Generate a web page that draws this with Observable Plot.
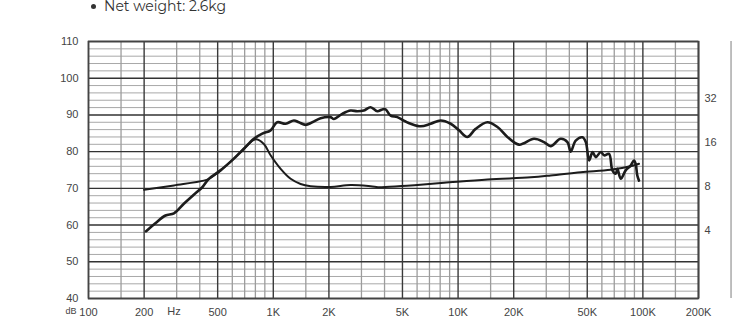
<!DOCTYPE html>
<html><head><meta charset="utf-8">
<script src="https://cdn.jsdelivr.net/npm/d3@7"></script>
<script src="https://cdn.jsdelivr.net/npm/@observablehq/plot@0.6"></script>
<style>
html,body{margin:0;padding:0;background:#fff;}
#wrap{position:relative;width:735px;height:323px;overflow:hidden;}
#note{position:absolute;left:91px;top:-1px;font-family:Montserrat,"Open Sans",sans-serif;font-size:14px;line-height:14px;color:#333;white-space:nowrap;}
#note .dot{display:inline-block;width:5px;height:5px;border-radius:50%;background:#333;margin-right:8px;vertical-align:2px;}
#chart{position:absolute;left:0;top:0;}
</style></head>
<body>
<div id="wrap">
  <div id="chart"></div>
  <div id="note"><span class="dot"></span>Net weight: 2.6kg</div>
</div>
<script>
// Frequency response (SPL, dB)
const splFreq = [205, 230, 261, 290, 328, 370, 413, 448, 518, 612, 693, 785, 872, 967, 1050, 1166, 1293, 1375, 1495, 1626, 1803, 2041, 2128, 2361, 2620, 2849, 3092, 3363, 3656, 3892, 4055, 4315, 4690, 5200, 5540, 6280, 7110, 8050, 9120, 10120, 11220, 12450, 14410, 16330, 18490, 21380, 25760, 29170, 31700, 35900, 39060, 40700, 43300, 47100, 49100, 51200, 53400, 55600, 59200, 61700, 65600, 68400, 71300, 72800, 75900, 80700, 85900, 89500, 91400, 93300, 95300];
const splDb = [58.3, 60.5, 62.6, 63.2, 65.8, 68.2, 70.3, 72.6, 74.9, 78.1, 80.8, 83.5, 84.9, 85.8, 88.0, 87.6, 88.5, 88.0, 87.3, 88.0, 89.1, 89.4, 88.9, 90.3, 91.2, 91.0, 91.2, 92.1, 91.0, 91.5, 91.5, 89.8, 89.4, 88.2, 87.6, 86.9, 87.6, 88.5, 87.6, 85.8, 84.0, 86.2, 88.0, 86.7, 84.0, 81.9, 83.5, 82.6, 81.5, 83.5, 82.6, 80.0, 83.0, 83.9, 82.6, 77.6, 79.9, 78.5, 79.9, 79.0, 79.4, 74.9, 74.0, 75.3, 72.6, 74.9, 76.2, 77.6, 76.7, 73.5, 72.1];

// Impedance curve, expressed on the chart's dB grid
const impFreq = [200, 290, 421, 448, 518, 612, 693, 802, 889, 967, 1096, 1241, 1405, 1592, 2041, 2620, 3363, 3810, 5540, 8390, 14410, 24720, 31700, 46100, 67000, 85900, 95300];
const impDb = [69.6, 70.8, 72.1, 72.6, 74.9, 78.1, 80.8, 83.4, 82.1, 79.0, 75.3, 72.6, 71.2, 70.6, 70.4, 70.9, 70.6, 70.3, 70.8, 71.5, 72.4, 73.0, 73.5, 74.4, 75.1, 76.0, 76.7];

// Tick labels
const yTicks = [40, 50, 60, 70, 80, 90, 100, 110];
const xTickValues = [100, 200, 500, 1000, 2000, 5000, 10000, 20000, 50000, 100000, 200000];
const xTickLabels = ["100", "200", "500", "1K", "2K", "5K", "10K", "20K", "50K", "100K", "200K"];
const hzLabelFreq = [290];
const ohmTicks = [4, 8, 16, 32];
const ohmRef = 8, ohmRefDb = 70.5, dbPerDoubling = 12;

// Grid
const decades = [100, 1000, 10000, 100000];
const majorMant = [1, 2, 5];
const minorMant = [1.5, 3, 4, 6, 7, 8, 9];
const majorFreq = decades.flatMap(d => majorMant.map(m => m * d)).concat([200000]);
const minorFreq = decades.flatMap(d => minorMant.map(m => m * d));
const majorDb = d3.range(40, 111, 10);
const minorDb = d3.range(40, 111, 2).filter(v => v % 10 !== 0);

const spl = splFreq.map((f, i) => ({f, v: splDb[i]}));
const imp = impFreq.map((f, i) => ({f, v: impDb[i]}));

const chart = Plot.plot({
  width: 735, height: 323,
  marginLeft: 88, marginRight: 37, marginTop: 41, marginBottom: 25,
  x: {type: "log", domain: [100, 200000], axis: null},
  y: {domain: [40, 110], axis: null},
  style: {fontFamily: "'Liberation Sans', Arial, sans-serif", fontSize: "11px", color: "#444", background: "#fff"},
  marks: [
    Plot.ruleY(minorDb, {stroke: "#a8a8a8", strokeWidth: 1}),
    Plot.ruleX(minorFreq, {stroke: "#9c9c9c", strokeWidth: 1.3}),
    Plot.ruleY(majorDb, {stroke: "#333", strokeWidth: 1.4}),
    Plot.ruleX(majorFreq, {stroke: "#3a3a3a", strokeWidth: 1.4}),
    Plot.frame({stroke: "#444", strokeWidth: 1.6}),
    Plot.line(imp, {x: "f", y: "v", stroke: "#1c1c1c", strokeWidth: 2, curve: "catmull-rom"}),
    Plot.line(spl, {x: "f", y: "v", stroke: "#1c1c1c", strokeWidth: 2.6, curve: "catmull-rom"}),
    Plot.text(yTicks, {x: 100, y: d => d, text: d => String(d), textAnchor: "end", dx: -10, fill: "#444"}),
    Plot.text(xTickValues, {x: d => d, y: 40, text: (d, i) => xTickLabels[i], dy: 14, fill: "#444"}),
    Plot.text(hzLabelFreq, {x: d => d, y: 40, text: () => "Hz", dy: 13, fill: "#444"}),
    Plot.text(["dB"], {x: 100, y: 40, text: d => d, textAnchor: "end", dx: -12, dy: 13, fontSize: 9, fill: "#444"}),
    Plot.text(ohmTicks, {x: 200000, y: d => ohmRefDb + dbPerDoubling * Math.log2(d / ohmRef), text: d => String(d), textAnchor: "start", dx: 6, fill: "#444"})
  ]
});
document.getElementById("chart").appendChild(chart);
</script>
</body></html>
